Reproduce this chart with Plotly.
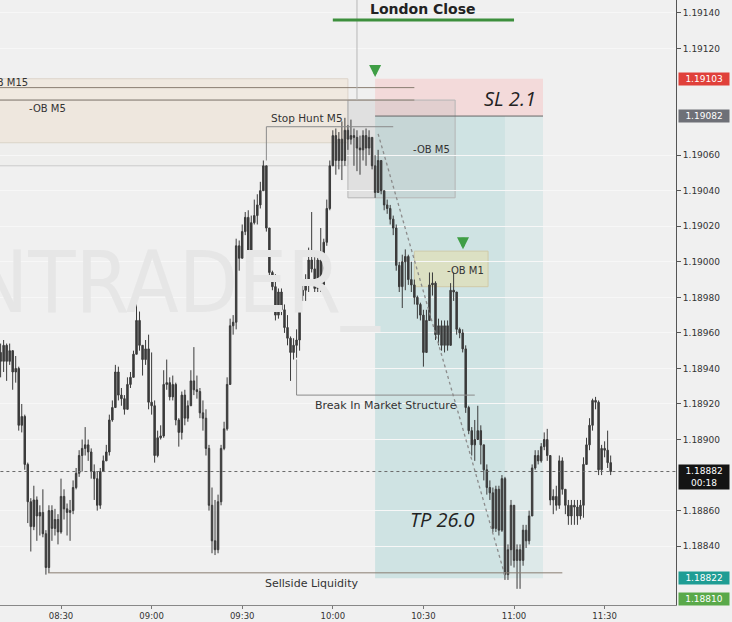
import plotly.graph_objects as go
import pandas as pd

DAY = "2021-02-01"
first_open = 1.18949

closes = [
    1.18944, 1.18953, 1.18944, 1.18950, 1.18938, 1.18940, 1.18908, 1.18913, 1.18886, 1.18865,
    1.18851, 1.18866, 1.18857, 1.18859, 1.18847, 1.18828, 1.18860, 1.18850, 1.18855, 1.18848,
    1.18868, 1.18861, 1.18859, 1.18860, 1.18873, 1.18881, 1.18891, 1.18895, 1.18897, 1.18893,
    1.18882, 1.18878, 1.18863, 1.18882, 1.18888, 1.18893, 1.18911, 1.18918, 1.18938, 1.18925,
    1.18923, 1.18917, 1.18931, 1.18935, 1.18948, 1.18967, 1.18953, 1.18945, 1.18951, 1.18921,
    1.18919, 1.18891, 1.18901, 1.18902, 1.18931, 1.18932, 1.18924, 1.18931, 1.18911, 1.18904,
    1.18925, 1.18912, 1.18919, 1.18933, 1.18928, 1.18927, 1.18915, 1.18912, 1.18895, 1.18863,
    1.18843, 1.18838, 1.18865, 1.18895, 1.18906, 1.18931, 1.18964, 1.18966, 1.19009, 1.19002,
    1.19017, 1.19025, 1.19002, 1.19022, 1.19026, 1.19032, 1.19040, 1.19054, 1.19019, 1.18994,
    1.18986, 1.18970, 1.18983, 1.18973, 1.18963, 1.18957, 1.18949, 1.18953, 1.18956, 1.18981,
    1.18984, 1.18988, 1.19001, 1.18996, 1.18985, 1.19001, 1.18987, 1.19011, 1.19030, 1.19054,
    1.19071, 1.19057, 1.19069, 1.19057, 1.19074, 1.19069, 1.19071, 1.19070, 1.19064, 1.19063,
    1.19071, 1.19064, 1.19070, 1.19054, 1.19039, 1.19057, 1.19040, 1.19032, 1.19030, 1.19024,
    1.19019, 1.18998, 1.18986, 1.19000, 1.19003, 1.18990, 1.18987, 1.18980, 1.18976, 1.18970,
    1.18949, 1.18967, 1.18987, 1.18988, 1.18959, 1.18964, 1.18953, 1.18964, 1.18953, 1.18984,
    1.18983, 1.18962, 1.18960, 1.18951, 1.18918, 1.18905, 1.18897, 1.18900, 1.18905, 1.18897,
    1.18883, 1.18873, 1.18870, 1.18850, 1.18872, 1.18849, 1.18878, 1.18824, 1.18838, 1.18863,
    1.18832, 1.18838, 1.18832, 1.18849, 1.18843, 1.18857, 1.18884, 1.18891, 1.18888, 1.18896,
    1.18900, 1.18891, 1.18866, 1.18868, 1.18863, 1.18888, 1.18872, 1.18863, 1.18857, 1.18863,
    1.18862, 1.18857, 1.18863, 1.18886, 1.18897, 1.18908, 1.18922, 1.18921, 1.18883, 1.18895,
    1.18894, 1.18887, 1.18882,
]

highs = [
    1.18954, 1.18956, 1.18954, 1.18954, 1.18950, 1.18947, 1.18941, 1.18920, 1.18914, 1.18887,
    1.18867, 1.18874, 1.18868, 1.18863, 1.18872, 1.18849, 1.18863, 1.18863, 1.18861, 1.18858,
    1.18878, 1.18872, 1.18864, 1.18866, 1.18877, 1.18884, 1.18894, 1.18900, 1.18907, 1.18900,
    1.18895, 1.18886, 1.18882, 1.18884, 1.18891, 1.18897, 1.18914, 1.18922, 1.18942, 1.18941,
    1.18929, 1.18925, 1.18935, 1.18938, 1.18950, 1.18978, 1.18972, 1.18953, 1.18956, 1.18959,
    1.18949, 1.18922, 1.18905, 1.18908, 1.18939, 1.18945, 1.18935, 1.18936, 1.18932, 1.18912,
    1.18927, 1.18928, 1.18922, 1.18939, 1.18952, 1.18936, 1.18929, 1.18922, 1.18917, 1.18897,
    1.18873, 1.18866, 1.18869, 1.18897, 1.18910, 1.18935, 1.18968, 1.18970, 1.19013, 1.19012,
    1.19021, 1.19028, 1.19029, 1.19026, 1.19035, 1.19038, 1.19045, 1.19057, 1.19054, 1.19019,
    1.18995, 1.18993, 1.18985, 1.18985, 1.18976, 1.18970, 1.18958, 1.18957, 1.18962, 1.18985,
    1.18989, 1.18993, 1.19008, 1.19028, 1.19004, 1.19004, 1.19019, 1.19013, 1.19035, 1.19057,
    1.19074, 1.19075, 1.19073, 1.19079, 1.19081, 1.19077, 1.19080, 1.19075, 1.19074, 1.19071,
    1.19074, 1.19075, 1.19074, 1.19068, 1.19060, 1.19063, 1.19057, 1.19040, 1.19035, 1.19032,
    1.19026, 1.19021, 1.19000, 1.19004, 1.19007, 1.19004, 1.19000, 1.18990, 1.18981, 1.18977,
    1.18973, 1.18973, 1.18994, 1.18994, 1.18989, 1.18968, 1.18967, 1.18967, 1.18967, 1.18988,
    1.18994, 1.18983, 1.18963, 1.18962, 1.18953, 1.18919, 1.18907, 1.18911, 1.18919, 1.18908,
    1.18897, 1.18886, 1.18877, 1.18873, 1.18874, 1.18874, 1.18880, 1.18879, 1.18841, 1.18866,
    1.18860, 1.18841, 1.18841, 1.18852, 1.18852, 1.18860, 1.18886, 1.18894, 1.18894, 1.18898,
    1.18904, 1.18906, 1.18891, 1.18872, 1.18874, 1.18891, 1.18890, 1.18872, 1.18866, 1.18866,
    1.18866, 1.18866, 1.18866, 1.18890, 1.18901, 1.18912, 1.18923, 1.18924, 1.18922, 1.18897,
    1.18899, 1.18905, 1.18891,
]

lows = [
    1.18935, 1.18938, 1.18933, 1.18942, 1.18928, 1.18932, 1.18905, 1.18904, 1.18883, 1.18853,
    1.18837, 1.18849, 1.18843, 1.18846, 1.18845, 1.18824, 1.18825, 1.18843, 1.18846, 1.18841,
    1.18847, 1.18855, 1.18846, 1.18843, 1.18858, 1.18872, 1.18879, 1.18882, 1.18891, 1.18888,
    1.18878, 1.18866, 1.18860, 1.18861, 1.18882, 1.18888, 1.18891, 1.18910, 1.18925, 1.18922,
    1.18919, 1.18914, 1.18921, 1.18929, 1.18935, 1.18948, 1.18950, 1.18936, 1.18942, 1.18917,
    1.18914, 1.18887, 1.18890, 1.18900, 1.18901, 1.18928, 1.18922, 1.18922, 1.18908, 1.18896,
    1.18900, 1.18908, 1.18910, 1.18925, 1.18925, 1.18923, 1.18912, 1.18905, 1.18891, 1.18860,
    1.18836, 1.18835, 1.18836, 1.18863, 1.18894, 1.18905, 1.18931, 1.18959, 1.18962, 1.18995,
    1.19002, 1.19015, 1.19000, 1.19000, 1.19021, 1.19021, 1.19030, 1.19040, 1.19017, 1.18991,
    1.18984, 1.18967, 1.18968, 1.18970, 1.18960, 1.18953, 1.18933, 1.18945, 1.18946, 1.18950,
    1.18978, 1.18978, 1.18983, 1.18994, 1.18983, 1.18983, 1.18983, 1.18998, 1.19009, 1.19029,
    1.19054, 1.19049, 1.19052, 1.19046, 1.19054, 1.19063, 1.19066, 1.19054, 1.19051, 1.19049,
    1.19057, 1.19054, 1.19060, 1.19052, 1.19036, 1.19052, 1.19038, 1.19029, 1.19027, 1.19021,
    1.19015, 1.18995, 1.18983, 1.18974, 1.18984, 1.18987, 1.18983, 1.18976, 1.18968, 1.18967,
    1.18941, 1.18962, 1.18968, 1.18981, 1.18956, 1.18953, 1.18950, 1.18949, 1.18950, 1.18962,
    1.18978, 1.18959, 1.18957, 1.18949, 1.18915, 1.18903, 1.18891, 1.18888, 1.18900, 1.18886,
    1.18877, 1.18869, 1.18866, 1.18848, 1.18848, 1.18846, 1.18848, 1.18821, 1.18821, 1.18829,
    1.18828, 1.18816, 1.18816, 1.18829, 1.18839, 1.18841, 1.18858, 1.18883, 1.18886, 1.18887,
    1.18894, 1.18888, 1.18863, 1.18858, 1.18860, 1.18861, 1.18869, 1.18858, 1.18852, 1.18852,
    1.18852, 1.18852, 1.18855, 1.18856, 1.18887, 1.18894, 1.18905, 1.18917, 1.18880, 1.18880,
    1.18890, 1.18884, 1.18880,
]

time_ticks = ["08:30", "09:00", "09:30", "10:00", "10:30", "11:00", "11:30"]
# ticks hidden behind the coloured price labels are left out
price_ticks = [1.18840, 1.18860, 1.18900, 1.18920, 1.18940, 1.18960, 1.18980,
               1.19000, 1.19020, 1.19040, 1.19060, 1.19120, 1.19140]

# levels
sl_level = 1.19103
entry_level = 1.19082
tp_level = 1.18822
current_price = 1.18882
low_marker = 1.18810


def T(hms):
    return f"{DAY} {hms}"


n = min(len(closes), len(highs), len(lows))
closes, highs, lows = closes[:n], highs[:n], lows[:n]
opens = [first_open] + closes[:-1]
highs = [max(h, o, c) for h, o, c in zip(highs, opens, closes)]
lows = [min(l, o, c) for l, o, c in zip(lows, opens, closes)]
times = pd.date_range(T("08:10"), periods=n, freq="1min")

CANDLE = "#3b3b3b"
fig = go.Figure()

# watermark
fig.add_trace(go.Scatter(
    x=[T("10:15:30")], y=[1.18984], mode="text", text=["ANTRADER_"],
    textposition="middle left", hoverinfo="skip", showlegend=False,
    textfont=dict(family="Liberation Sans Narrow, DejaVu Sans Condensed, DejaVu Sans", size=86, color="#e6e6e6"),
))

fig.add_trace(go.Candlestick(
    x=times, open=opens, high=highs, low=lows, close=closes,
    increasing=dict(line=dict(color=CANDLE, width=1), fillcolor=CANDLE),
    decreasing=dict(line=dict(color=CANDLE, width=1), fillcolor=CANDLE),
    showlegend=False, hoverinfo="skip",
))

X_START = T("08:00")
shapes = []
def rect(x0, x1, y0, y1, fill, line="rgba(0,0,0,0)", lw=0, layer="below"):
    shapes.append(dict(type="rect", xref="x", yref="y", x0=x0, x1=x1, y0=y0, y1=y1,
                       fillcolor=fill, line=dict(color=line, width=lw), layer=layer))

def seg(x0, x1, y0, y1, color, width=1, dash="solid", layer="above"):
    shapes.append(dict(type="line", xref="x", yref="y", x0=x0, x1=x1, y0=y0, y1=y1,
                       line=dict(color=color, width=width, dash=dash), layer=layer))

# OB M15 and OB M5 zones (left)
rect(X_START, T("10:05"), 1.19067, 1.19103, "rgba(242,220,195,0.35)", "#dcd4ca", 1)
rect(X_START, T("10:05"), 1.19054, 1.19091, "rgba(220,215,210,0.08)", "#cbcbcb", 1)
# SL / TP position boxes
rect(T("10:14"), T("11:09:36"), entry_level, sl_level, "rgba(245,200,200,0.55)")
rect(T("10:14"), T("10:57"), tp_level, entry_level, "rgba(185,218,218,0.6)")
rect(T("10:57"), T("11:09:36"), tp_level, entry_level, "rgba(208,228,228,0.6)")
# right OB M5 box
rect(T("10:05"), T("10:40:30"), 1.19036, 1.19091, "rgba(170,170,170,0.22)", "#b5b5b5", 1)
# OB M1 box
rect(T("10:27"), T("10:51:24"), 1.18986, 1.19006, "rgba(232,222,170,0.55)", "#d0caa8", 1)

# lines
seg(X_START, T("10:27"), 1.19098, 1.19098, "#8a7e72")
seg(X_START, T("10:27"), 1.19091, 1.19091, "#8a7e72")
seg(T("10:14"), T("11:09:36"), entry_level, entry_level, "#666666")
seg(T("09:38"), T("10:20"), 1.19076, 1.19076, "#8a8a8a")
seg(T("09:38"), T("09:38"), 1.19057, 1.19076, "#8a8a8a")
seg(T("09:48"), T("09:48"), 1.18945, 1.18925, "#8a8a8a")
seg(T("09:48"), T("10:47"), 1.18925, 1.18925, "#8a8a8a")
seg(T("08:25:42"), T("11:16"), 1.18825, 1.18825, "#8a7e72")
seg(T("10:15"), T("10:57:15"), 1.19072, tp_level, "#8c8c8c", 1.3, "dot")
seg(T("10:08"), T("10:08"), 1.19091, 1.19150, "#b8b8b8")
seg(T("08:00"), T("12:00"), current_price, current_price, "#6a6a6a", 1, "dot")
shapes.append(dict(type="line", xref="x", yref="paper", x0=T("10:00"), x1=T("11:00"),
                   y0=0.967, y1=0.967, line=dict(color="#3d8f3d", width=3)))

fig.update_layout(shapes=shapes)

ann = []
def txt(x, y, s, size=10.5, color="#333", bold=False, italic=False, xanchor="center", family="DejaVu Sans", yref="y"):
    ann.append(dict(x=x, y=y, xref="x", yref=yref, text=(f"<b>{s}</b>" if bold else s), showarrow=False,
                    xanchor=xanchor, yanchor="middle",
                    font=dict(family=family, size=size, color=color, style="italic" if italic else "normal")))

txt(T("10:30"), 0.985, "London Close", size=14, color="#222", bold=True, yref="paper")
txt(T("08:19:44"), 1.19101, "-OB M15", size=10, xanchor="right")
txt(T("08:25:22"), 1.19086, "-OB M5", size=10)
txt(T("09:51:30"), 1.19081, "Stop Hunt M5")
txt(T("10:32:50"), 1.19063, "-OB M5", size=10)
txt(T("10:43:46"), 1.18995, "-OB M1", size=10)
txt(T("10:17:37"), 1.18919, "Break In Market Structure", size=11)
txt(T("09:52:48"), 1.18819, "Sellside Liquidity", size=11)
txt(T("10:58:40"), 1.19092, "SL 2.1", size=20, color="#222", italic=True, family="Open Sans")
txt(T("10:36:10"), 1.18855, "TP 26.0", size=20, color="#222", italic=True, family="Open Sans")

for ax_t, ax_p in [("10:14", 1.19104), ("10:43:07", 1.19007)]:
    ann.append(dict(x=T(ax_t), y=ax_p, xref="x", yref="y", text="", showarrow=True,
                    ax=0, ay=-13, arrowhead=2, arrowsize=0.75, arrowwidth=3.2, arrowcolor="#3f9e45"))

def price_label(p, text, bg, yshift=0, yanchor="middle"):
    ann.append(dict(x=1, xref="paper", y=p, yref="y", text=text, showarrow=False,
                    xanchor="left", yanchor=yanchor, xshift=2, yshift=yshift, bgcolor=bg, width=48,
                    borderpad=1, font=dict(family="DejaVu Sans", size=9, color="white")))

price_label(sl_level, "1.19103", "#e0403a")
price_label(entry_level, "1.19082", "#6e7077")
price_label(current_price, "1.18882<br>00:18", "#141414", yshift=8, yanchor="top")
price_label(tp_level, "1.18822", "#1f9d94")
price_label(low_marker, "1.18810", "#5aa94a")

fig.update_layout(
    annotations=ann,
    width=732, height=622,
    margin=dict(l=0, r=56, t=0, b=17),
    paper_bgcolor="#f0f0f0", plot_bgcolor="#f0f0f0",
    showlegend=False, hovermode=False,
    xaxis=dict(
        type="date", range=[T("08:09:48"), T("11:53:38")],
        tickvals=[T(t) for t in time_ticks], ticktext=time_ticks,
        ticks="outside", ticklen=3, tickcolor="#777", showgrid=False,
        showline=True, linecolor="#888", linewidth=1, zeroline=False,
        rangeslider=dict(visible=False),
        tickfont=dict(family="DejaVu Sans", size=8.5, color="#333"),
    ),
    yaxis=dict(
        side="right", range=[1.188069, 1.191473],
        tickvals=price_ticks, tickformat=".5f",
        ticks="outside", ticklen=4, tickcolor="#555",
        showgrid=True, gridcolor="#f7f7f7", zeroline=False,
        showline=True, linecolor="#555", linewidth=1,
        tickfont=dict(family="DejaVu Sans", size=9, color="#333"),
    ),
)

fig.write_html(
    "out.html",
    config={"displayModeBar": False},
    post_script="document.body.style.margin='0';document.body.style.padding='0';document.body.style.overflow='hidden';",
)
